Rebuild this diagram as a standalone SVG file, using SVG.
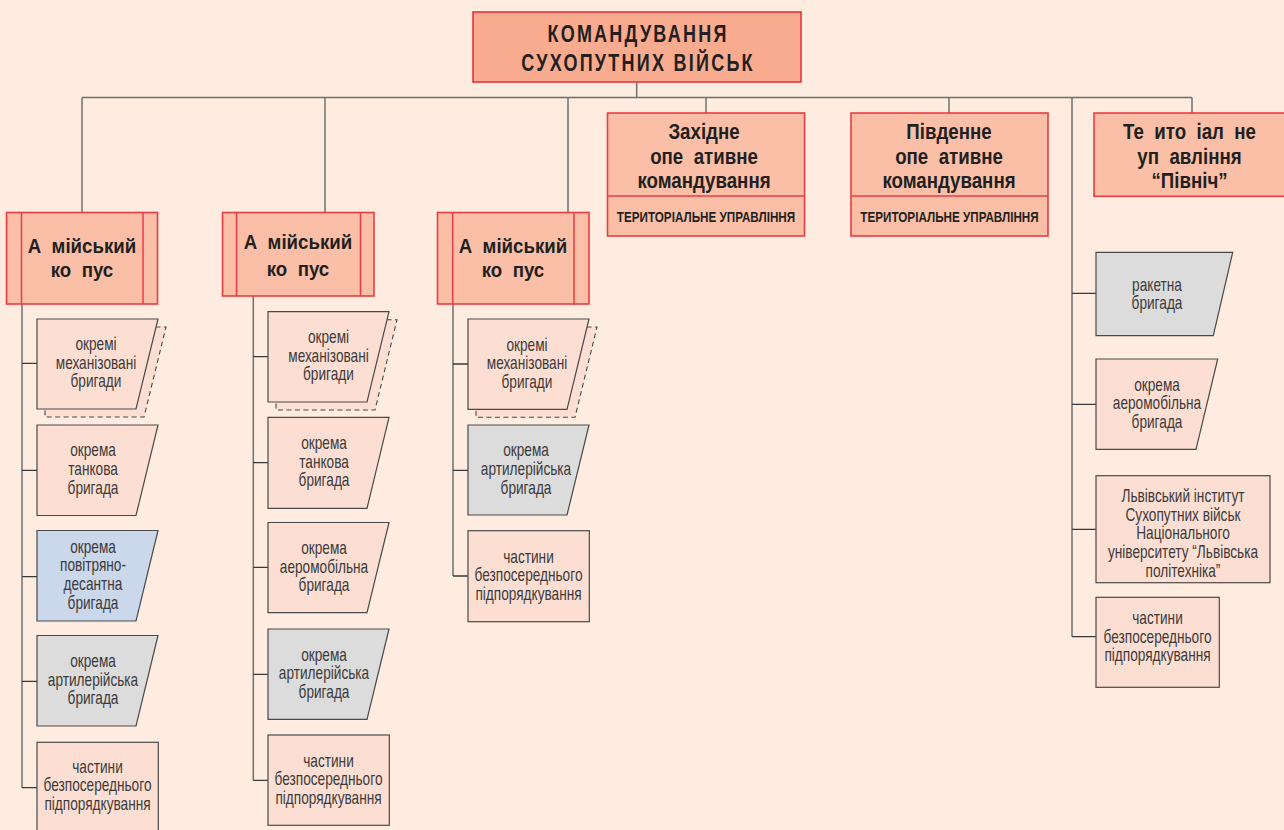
<svg xmlns="http://www.w3.org/2000/svg" width="1284" height="830" viewBox="0 0 1284 830">
<style>
.conn{stroke:#707070;stroke-width:1.5;fill:none}
.tick{stroke:#3a3a3a;stroke-width:1.3;fill:none}
.top{fill:#f8ab8e;stroke:#e8343c;stroke-width:1.6}
.cmd{fill:#fabfa6;stroke:#ea3c44;stroke-width:1.6}
.cl{stroke:#ea3c44;stroke-width:1.5;fill:none}
.pink{fill:#fcdfd2;stroke:#4a4a4a;stroke-width:1.2}
.blue{fill:#cbd7ea;stroke:#4a4a4a;stroke-width:1.2}
.gray{fill:#dcdcdc;stroke:#4a4a4a;stroke-width:1.2}
.shadow{fill:#fcdfd2;stroke:#4a4a4a;stroke-width:1.1;stroke-dasharray:5 3.5}
.t{font-family:"Liberation Sans",Arial,sans-serif;font-size:17.5px;fill:#3c3a3a;text-anchor:middle}
.b{font-family:"Liberation Sans",Arial,sans-serif;font-weight:bold;font-size:22px;fill:#231f20;text-anchor:middle;white-space:pre}
.bc{font-family:"Liberation Sans",Arial,sans-serif;font-weight:bold;font-size:21px;fill:#231f20;text-anchor:middle;white-space:pre}
.ttl{font-family:"Liberation Sans",Arial,sans-serif;font-weight:bold;font-size:24px;fill:#231f20;text-anchor:middle;letter-spacing:3px}
.tu{font-family:"Liberation Sans",Arial,sans-serif;font-weight:bold;font-size:14px;fill:#231f20;text-anchor:middle}
</style>
<rect x="0" y="0" width="1284" height="830" fill="#fdecdf"/>

<g id="connectors">
  <path class="conn" d="M636.7 82V97.5M82 97.5H1192M82 97.5V212M325 97.5V212M568 97.5V212M706 97.5V113M949 97.5V113M1192 97.5V113M1072 97.5V636.7"/>
  <path class="conn" d="M22 304V787.7M253.3 296V780.3M453 304V576"/>
  <path class="tick" d="M22 363.3H37M22 470.3H37M22 576.7H37M22 681.3H37M22 787.7H37"/>
  <path class="tick" d="M253.3 356.7H268M253.3 462.7H268M253.3 567.3H268M253.3 674.3H268M253.3 780.3H268"/>
  <path class="tick" d="M453 364H468M453 470.3H468M453 576H468"/>
  <path class="tick" d="M1072 293.3H1096M1072 404.3H1096M1072 529.3H1096M1072 636.7H1096"/>
</g>

<g id="top">
  <rect class="top" x="473" y="12" width="328" height="70"/>
  <text class="ttl" transform="translate(638,0) scale(0.75,1)"><tspan x="0" y="42.3">КОМАНДУВАННЯ</tspan><tspan x="0" y="71.5">СУХОПУТНИХ ВІЙСЬК</tspan></text>
</g>

<g id="corps1">
  <rect class="cmd" x="6.5" y="212.5" width="151" height="91.5"/>
  <path class="cl" d="M21.5 212.5V304M143 212.5V304"/>
  <text class="bc" transform="translate(82,0) scale(0.89,1)"><tspan x="0" y="253">А  мійський</tspan><tspan x="0" y="277">ко  пус</tspan></text>
</g>
<g id="corps2">
  <rect class="cmd" x="222.5" y="212.5" width="151.5" height="83.5"/>
  <path class="cl" d="M236.5 212.5V296M360.5 212.5V296"/>
  <text class="bc" transform="translate(298,0) scale(0.89,1)"><tspan x="0" y="249.5">А  мійський</tspan><tspan x="0" y="276">ко  пус</tspan></text>
</g>
<g id="corps3">
  <rect class="cmd" x="437.5" y="212.5" width="151.5" height="91.5"/>
  <path class="cl" d="M452.7 212.5V304M574 212.5V305"/>
  <text class="bc" transform="translate(513,0) scale(0.89,1)"><tspan x="0" y="253">А  мійський</tspan><tspan x="0" y="277">ко  пус</tspan></text>
</g>

<g id="west">
  <rect class="cmd" x="607.5" y="113" width="197" height="123"/>
  <path class="cl" d="M607.5 196H804.5"/>
  <text class="b" transform="translate(704,0) scale(0.85,1)"><tspan x="0" y="139.3">Західне</tspan><tspan x="0" y="164">опе  ативне</tspan><tspan x="0" y="188.3">командування</tspan></text>
  <text class="tu" transform="translate(706,0) scale(0.835,1)" x="0" y="221.7">ТЕРИТОРІАЛЬНЕ УПРАВЛІННЯ</text>
</g>
<g id="south">
  <rect class="cmd" x="851" y="113" width="197" height="123"/>
  <path class="cl" d="M851 196H1048"/>
  <text class="b" transform="translate(949,0) scale(0.85,1)"><tspan x="0" y="139.3">Південне</tspan><tspan x="0" y="164">опе  ативне</tspan><tspan x="0" y="188.3">командування</tspan></text>
  <text class="tu" transform="translate(949.5,0) scale(0.835,1)" x="0" y="221.7">ТЕРИТОРІАЛЬНЕ УПРАВЛІННЯ</text>
</g>
<g id="north">
  <rect class="cmd" x="1094" y="113" width="200" height="83.3"/>
  <text class="b" transform="translate(1189.5,0) scale(0.85,1)"><tspan x="0" y="139.3">Те  ито  іал  не</tspan><tspan x="0" y="164">уп  авління</tspan><tspan x="0" y="188.3">“Північ”</tspan></text>
</g>

<g id="c1-mech">
  <polygon class="shadow" points="45,327 166,327 144,417 45,417"/>
  <polygon class="pink" points="37,319 158,319 136,409 37,409"/>
  <text class="t" transform="translate(96,0) scale(0.78,1)"><tspan x="0" y="350.5">окремі</tspan><tspan x="0" y="369">механізовані</tspan><tspan x="0" y="387.5">бригади</tspan></text>
</g>
<g id="c1-tank">
  <polygon class="pink" points="37,425 158,425 136,515.5 37,515.5"/>
  <text class="t" transform="translate(93,0) scale(0.78,1)"><tspan x="0" y="456.5">окрема</tspan><tspan x="0" y="475">танкова</tspan><tspan x="0" y="493.6">бригада</tspan></text>
</g>
<g id="c1-para">
  <polygon class="blue" points="37,530.5 158,530.5 136,621 37,621"/>
  <text class="t" transform="translate(93,0) scale(0.78,1)"><tspan x="0" y="553">окрема</tspan><tspan x="0" y="571.5">повітряно-</tspan><tspan x="0" y="590">десантна</tspan><tspan x="0" y="608.7">бригада</tspan></text>
</g>
<g id="c1-art">
  <polygon class="gray" points="37,635.5 158,635.5 136,726 37,726"/>
  <text class="t" transform="translate(93,0) scale(0.78,1)"><tspan x="0" y="667.2">окрема</tspan><tspan x="0" y="685.8">артилерійська</tspan><tspan x="0" y="704.4">бригада</tspan></text>
</g>
<g id="c1-units">
  <rect class="pink" x="37" y="742.3" width="121.3" height="90"/>
  <text class="t" transform="translate(97.5,0) scale(0.78,1)"><tspan x="0" y="772.7">частини</tspan><tspan x="0" y="791.5">безпосереднього</tspan><tspan x="0" y="810">підпорядкування</tspan></text>
</g>

<g id="c2-mech">
  <polygon class="shadow" points="276,319.7 397,319.7 375,410 276,410"/>
  <polygon class="pink" points="268,311.7 389,311.7 367,402 268,402"/>
  <text class="t" transform="translate(328.5,0) scale(0.78,1)"><tspan x="0" y="343.3">окремі</tspan><tspan x="0" y="361.9">механізовані</tspan><tspan x="0" y="380.5">бригади</tspan></text>
</g>
<g id="c2-tank">
  <polygon class="pink" points="268,417.3 389,417.3 367,508.3 268,508.3"/>
  <text class="t" transform="translate(324,0) scale(0.78,1)"><tspan x="0" y="449.2">окрема</tspan><tspan x="0" y="467.8">танкова</tspan><tspan x="0" y="486.4">бригада</tspan></text>
</g>
<g id="c2-air">
  <polygon class="pink" points="268,522.5 389,522.5 367,612.7 268,612.7"/>
  <text class="t" transform="translate(324,0) scale(0.78,1)"><tspan x="0" y="554">окрема</tspan><tspan x="0" y="572.6">аеромобільна</tspan><tspan x="0" y="591.2">бригада</tspan></text>
</g>
<g id="c2-art">
  <polygon class="gray" points="268,629 389,629 367,719.3 268,719.3"/>
  <text class="t" transform="translate(324,0) scale(0.78,1)"><tspan x="0" y="660.6">окрема</tspan><tspan x="0" y="679.2">артилерійська</tspan><tspan x="0" y="697.8">бригада</tspan></text>
</g>
<g id="c2-units">
  <rect class="pink" x="268" y="735" width="121.3" height="90.3"/>
  <text class="t" transform="translate(328.5,0) scale(0.78,1)"><tspan x="0" y="766.6">частини</tspan><tspan x="0" y="785.2">безпосереднього</tspan><tspan x="0" y="803.8">підпорядкування</tspan></text>
</g>

<g id="c3-mech">
  <polygon class="shadow" points="476,327 597,327 575,417.3 476,417.3"/>
  <polygon class="pink" points="468,319 589,319 567,409.3 468,409.3"/>
  <text class="t" transform="translate(527,0) scale(0.78,1)"><tspan x="0" y="350.6">окремі</tspan><tspan x="0" y="369.2">механізовані</tspan><tspan x="0" y="387.8">бригади</tspan></text>
</g>
<g id="c3-art">
  <polygon class="gray" points="468,425 589,425 567,515 468,515"/>
  <text class="t" transform="translate(526,0) scale(0.78,1)"><tspan x="0" y="456.4">окрема</tspan><tspan x="0" y="475">артилерійська</tspan><tspan x="0" y="493.6">бригада</tspan></text>
</g>
<g id="c3-units">
  <rect class="pink" x="468" y="530.7" width="121.3" height="91"/>
  <text class="t" transform="translate(528.5,0) scale(0.78,1)"><tspan x="0" y="562.6">частини</tspan><tspan x="0" y="581.2">безпосереднього</tspan><tspan x="0" y="599.8">підпорядкування</tspan></text>
</g>

<g id="n-rocket">
  <polygon class="gray" points="1096,252.3 1232.7,252.3 1213.3,335.7 1096,335.7"/>
  <text class="t" transform="translate(1157,0) scale(0.78,1)"><tspan x="0" y="291">ракетна</tspan><tspan x="0" y="309.5">бригада</tspan></text>
</g>
<g id="n-air">
  <polygon class="pink" points="1096,359 1217.7,359 1196,449.3 1096,449.3"/>
  <text class="t" transform="translate(1157,0) scale(0.78,1)"><tspan x="0" y="390.6">окрема</tspan><tspan x="0" y="409.2">аеромобільна</tspan><tspan x="0" y="427.8">бригада</tspan></text>
</g>
<g id="n-inst">
  <rect class="pink" x="1096" y="475.7" width="174" height="107"/>
  <text class="t" transform="translate(1183,0) scale(0.78,1)"><tspan x="0" y="502">Львівський інститут</tspan><tspan x="0" y="520.7">Сухопутних військ</tspan><tspan x="0" y="539.4">Національного</tspan><tspan x="0" y="558.1">університету “Львівська</tspan><tspan x="0" y="576.8">політехніка”</tspan></text>
</g>
<g id="n-units">
  <rect class="pink" x="1096" y="597.3" width="123.3" height="90"/>
  <text class="t" transform="translate(1157.5,0) scale(0.78,1)"><tspan x="0" y="624.5">частини</tspan><tspan x="0" y="643">безпосереднього</tspan><tspan x="0" y="661.5">підпорядкування</tspan></text>
</g>
</svg>
